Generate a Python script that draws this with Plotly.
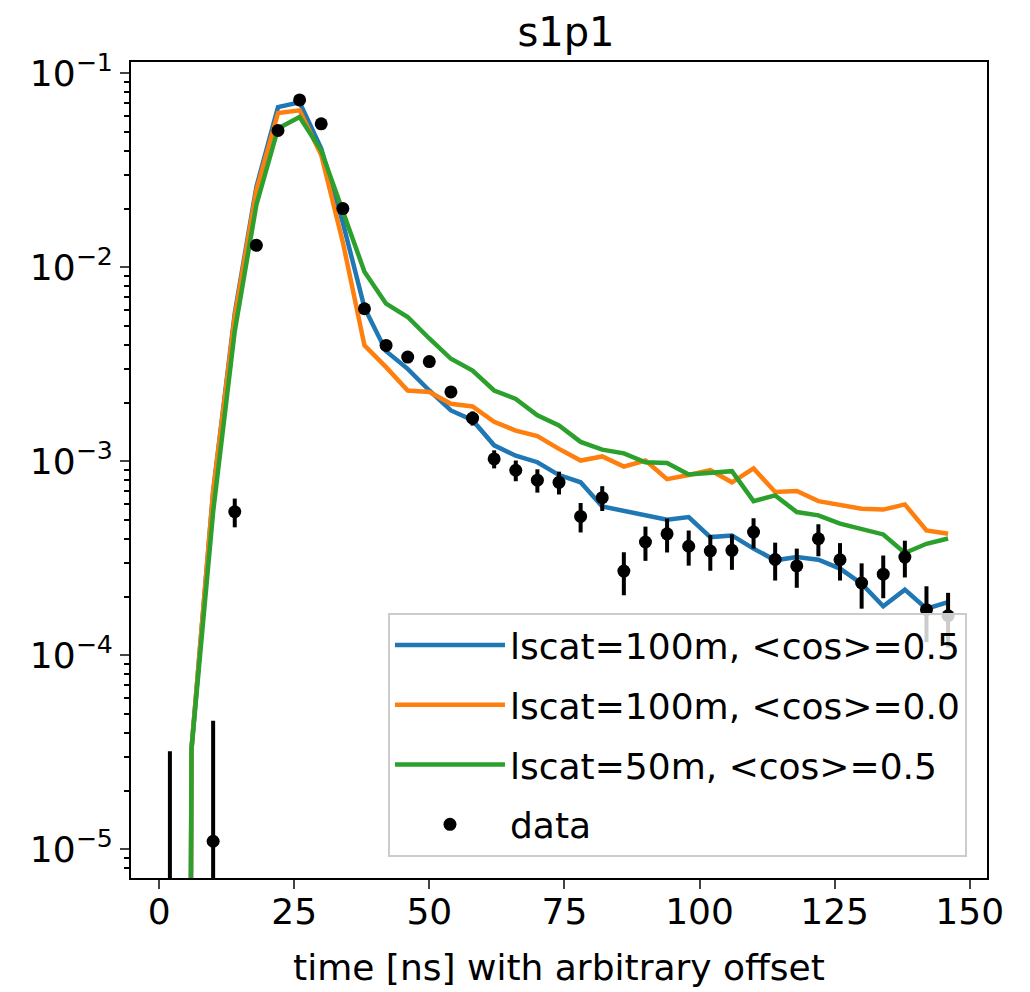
import plotly.graph_objects as go

# ---- data ----
time_ns = [2, 6, 10, 14, 18, 22, 26, 30, 34, 38, 42, 46, 50, 54, 58, 62, 66, 70, 74,
           78, 82, 86, 90, 94, 98, 102, 106, 110, 114, 118, 122, 126, 130, 134, 138, 142, 146]

sim_100m_cos05 = [0, 3.3e-5, 7.0e-4, 5.8e-3, 0.026, 0.067, 0.071, 0.041, 0.017, 0.0062,
                  0.0037, 0.0030, 0.00232, 0.00183, 0.00163, 0.00121, 0.00107, 0.00099, 0.00085,
                  0.00078, 0.000586, 0.000558, 0.000527, 0.0005, 0.000516, 0.000407, 0.000415,
                  0.000355, 0.000309, 0.000321, 0.000311, 0.00028, 0.000234, 0.000179, 0.000218,
                  0.000174, 0.000188]

sim_100m_cos00 = [0, 3.3e-5, 7.0e-4, 5.6e-3, 0.025, 0.0625, 0.0645, 0.038, 0.0135, 0.00396,
                  0.00306, 0.00232, 0.00228, 0.00198, 0.00192, 0.0016, 0.00144, 0.00135, 0.00116,
                  0.00101, 0.00106, 0.00094, 0.00101, 0.00081, 0.00085, 0.0009, 0.00078,
                  0.00092, 0.000695, 0.000703, 0.000624, 0.000593, 0.00057, 0.000564, 0.0006,
                  0.00044, 0.000423]

sim_50m_cos05 = [0, 3.3e-5, 5.5e-4, 4.7e-3, 0.021, 0.052, 0.0596, 0.040, 0.0195, 0.0095,
                 0.0065, 0.00555, 0.0043, 0.00338, 0.00294, 0.00232, 0.0021, 0.00173, 0.00153,
                 0.00126, 0.00115, 0.0011, 0.00099, 0.00098, 0.000857, 0.00087, 0.00089,
                 0.000624, 0.000668, 0.000548, 0.000527, 0.000477, 0.00045, 0.00042, 0.000337,
                 0.000376, 0.0004]

data_vals = [0, 0, 1.1e-5, 5.5e-4, 0.013, 0.0508, 0.073, 0.055, 0.0201, 0.00612,
             0.00396, 0.00345, 0.00327, 0.00228, 0.00167, 0.00103, 0.0009, 0.0008, 0.00078,
             0.00052, 0.00065, 0.000272, 0.000384, 0.000423, 0.000365, 0.000345, 0.000348,
             0.000432, 0.000312, 0.000289, 0.000399, 0.000311, 0.000236, 0.000262, 0.000321,
             0.000172, 0.00016]

data_errs = [3.2e-5, 0, 3.5e-5, 0.93e-4, 4e-4, 8e-4, 9e-4, 8e-4, 5e-4, 2.7e-4,
             2.2e-4, 2e-4, 2e-4, 1.6e-4, 1.4e-4, 1.1e-4, 1.1e-4, 1.1e-4, 1.05e-4,
             0.9e-4, 0.95e-4, 0.68e-4, 0.77e-4, 0.84e-4, 0.75e-4, 0.72e-4, 0.72e-4,
             0.77e-4, 0.69e-4, 0.66e-4, 0.75e-4, 0.68e-4, 0.62e-4, 0.65e-4, 0.69e-4,
             0.55e-4, 0.5e-4]

labels = ["lscat=100m, <cos>=0.5", "lscat=100m, <cos>=0.0", "lscat=50m, <cos>=0.5", "data"]
colors = ["#1f77b4", "#ff7f0e", "#2ca02c"]
y_tick_vals = [1e-5, 1e-4, 1e-3, 1e-2, 1e-1]
y_tick_text = ["10<sup>\u22125</sup>", "10<sup>\u22124</sup>", "10<sup>\u22123</sup>",
               "10<sup>\u22122</sup>", "10<sup>\u22121</sup>"]
x_tick_vals = [0, 25, 50, 75, 100, 125, 150]

TINY = 1e-30  # non-positive values are clipped like a log axis would


def clip(v):
    return v if v > 0 else TINY


FONT = "DejaVu Sans"
FS = 36

fig = go.Figure()

for i, series in enumerate([sim_100m_cos05, sim_100m_cos00, sim_50m_cos05]):
    fig.add_trace(go.Scatter(
        x=time_ns, y=[clip(v) for v in series], mode="lines", name=labels[i],
        line=dict(color=colors[i], width=4.5), legendgroup=f"g{i}",
    ))

# error bars (drawn as vertical segments through the axis scales)
ex, ey = [], []
for t, v, e in zip(time_ns, data_vals, data_errs):
    if e <= 0:
        continue
    ex += [t, t, None]
    ey += [clip(v - e), v + e, None]
fig.add_trace(go.Scatter(x=ex, y=ey, mode="lines", line=dict(color="black", width=4),
                         showlegend=False, hoverinfo="skip", legendgroup="g3"))

fig.add_trace(go.Scatter(
    x=[t for t, v in zip(time_ns, data_vals) if v > 0],
    y=[v for v in data_vals if v > 0],
    mode="markers", name=labels[3],
    marker=dict(color="black", size=13), legendgroup="g3",
))

minor_vals = [m * 10 ** d for d in range(-6, 0) for m in range(2, 10)]

W, H = 1022, 984  # page body adds an 8px offset

fig.update_layout(
    width=W, height=H,
    margin=dict(l=123, r=43, t=54, b=114),
    paper_bgcolor="white", plot_bgcolor="white",
    font=dict(family=FONT, size=FS, color="black"),
    title=dict(text="s1p1", x=558 / W, xanchor="center", y=1 - 24 / H, yanchor="middle",
               font=dict(size=40, family=FONT, color="black")),
    showlegend=True,
    legend=dict(
        x=0.9766, y=0.0257, xanchor="right", yanchor="bottom",
        bgcolor="rgba(255,255,255,0.8)", bordercolor="#cccccc", borderwidth=2,
        font=dict(size=FS, family=FONT, color="black"),
        tracegroupgap=10, traceorder="grouped", itemwidth=110,
    ),
    xaxis=dict(
        range=[-5.2, 153.2], tickvals=x_tick_vals, ticks="outside", ticklen=9, tickwidth=2,
        showline=True, linecolor="black", linewidth=2, mirror=True, showgrid=False,
        zeroline=False, tickfont=dict(size=FS), ticklabelstandoff=-8,
        title=dict(text="time [ns] with arbitrary offset", font=dict(size=FS), standoff=24),
    ),
    yaxis=dict(
        type="log", range=[-5.148, -0.941], tickvals=y_tick_vals, ticktext=y_tick_text,
        ticks="outside", ticklen=9, tickwidth=2,
        showline=True, linecolor="black", linewidth=2, mirror=True, showgrid=False,
        zeroline=False, tickfont=dict(size=FS),
        minor=dict(tickvals=minor_vals, ticks="outside", ticklen=5, tickwidth=1.5,
                   tickcolor="black", showgrid=False),
    ),
)

fig.write_html("out.html")
